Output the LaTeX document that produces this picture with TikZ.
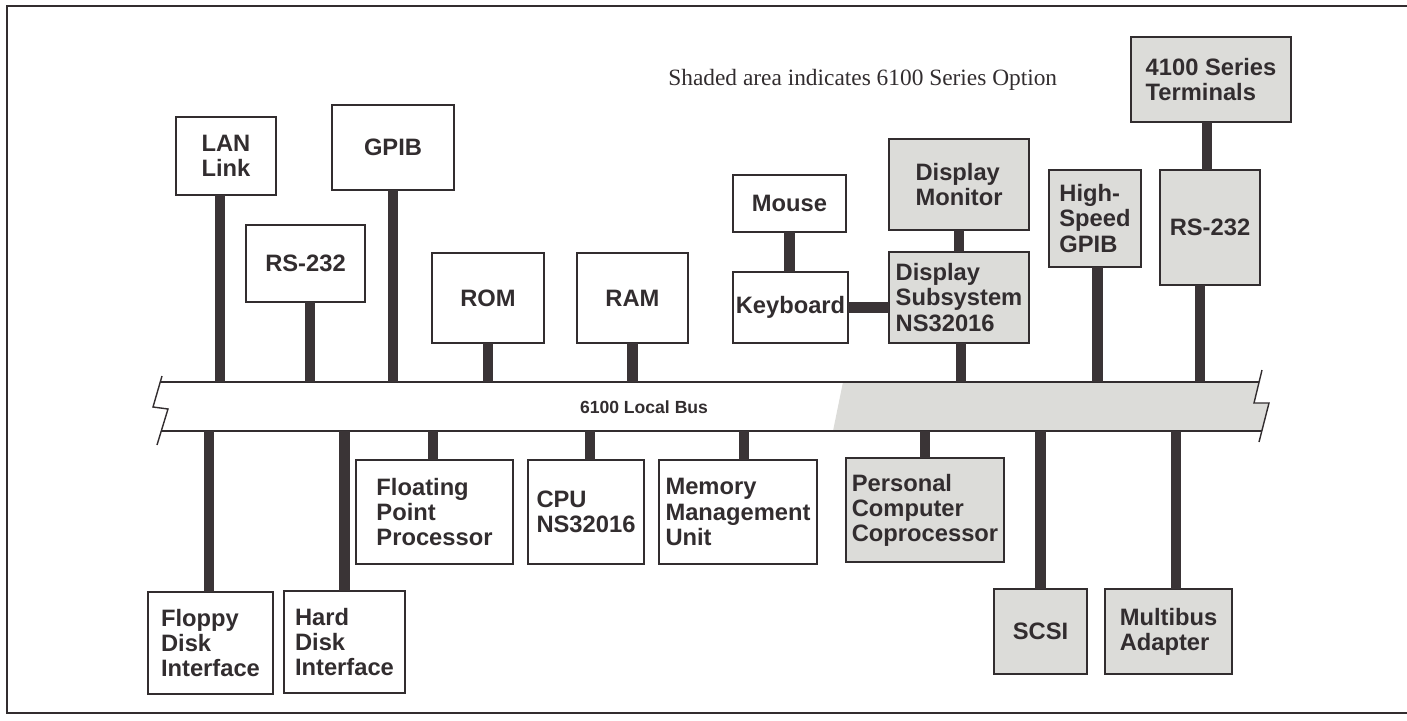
\documentclass[tikz,border=0pt]{standalone}
\usepackage{fontspec}
\setmainfont{Liberation Sans}
\newfontfamily\notefont{Liberation Serif}
\usepackage{xcolor}
\usepackage{tikz}
\usetikzlibrary{calc}
\definecolor{ink}{RGB}{50,45,47}
\definecolor{optbg}{RGB}{220,220,217}
\definecolor{wirec}{RGB}{58,52,54}

\begin{document}
\begin{tikzpicture}[x=0.2mm, y=-0.2mm, font=\fontsize{13.5}{14.3}\selectfont\bfseries,
  unit/.style={draw=ink, line width=1.1pt, text=ink, align=left, inner sep=0pt, outer sep=0pt},
  option/.style={unit, fill=optbg},
  link/.style={draw=wirec, line width=6.2pt},
  busline/.style={draw=ink, line width=1.1pt},
  breakline/.style={draw=ink, line width=0.8pt}]
  \useasboundingbox (0,0) rectangle (1407,721);
  \draw[draw=ink, line width=0.85pt] (1407,6) -- (7,6) -- (7,713) -- (1407,713);
  \node[font=\notefont\fontsize{13.3}{15}\selectfont, text=ink, anchor=base west, inner sep=0pt] (note) at (668,85) {Shaded area indicates 6100 Series Option};
  % local bus
  \coordinate (bustop) at (0,382);
  \coordinate (busbot) at (0,431);
  \fill[optbg] (843,382) -- (1259,382) -- (1254,403) -- (1269,403) -- (1262,431) -- (833,431) -- cycle;
  \draw[busline] (160,382) -- (1259,382);
  \draw[busline] (161,431) -- (1262,431);
  \draw[breakline] (162,376) -- (153,407) -- (168,409) -- (157,445);
  \draw[breakline] (1262,370) -- (1254,403) -- (1269,403) -- (1259,442);
  \node[font=\fontsize{10}{12}\selectfont\bfseries, text=ink] (buslabel) at (644,407) {6100 Local Bus};
  % above the bus
  \node[unit, minimum width=20mm, minimum height=15.6mm] (lan) at (226,156) {LAN\\Link};
  \node[unit, minimum width=24.4mm, minimum height=17mm] (gpib) at (393,147.5) {GPIB};
  \node[unit, minimum width=23.8mm, minimum height=15.4mm] (rsa) at (305.5,263.5) {RS-232};
  \node[unit, minimum width=22.4mm, minimum height=18mm] (rom) at (488,298) {ROM};
  \node[unit, minimum width=22.2mm, minimum height=18mm] (ram) at (632.5,298) {RAM};
  \node[unit, minimum width=22.6mm, minimum height=11.4mm] (mouse) at (789.5,203.5) {Mouse};
  \node[unit, minimum width=23mm, minimum height=14.2mm] (keyb) at (790.5,307.5) {Keyboard};
  \node[option, minimum width=28mm, minimum height=18.2mm] (dmon) at (959,184.5) {Display\\Monitor};
  \node[option, minimum width=28mm, minimum height=18.2mm] (dsub) at (959,297.5) {Display\\Subsystem\\NS32016};
  \node[option, minimum width=18.4mm, minimum height=19.4mm] (hsgpib) at (1095,218.5) {High-\\Speed\\GPIB};
  \node[option, minimum width=20mm, minimum height=23mm] (rsb) at (1210,227.5) {RS-232};
  \node[option, minimum width=32mm, minimum height=17mm] (term) at (1211,79.5) {4100 Series\\Terminals};
  % below the bus
  \node[unit, minimum width=31.4mm, minimum height=20.8mm] (fpp) at (434.5,512) {Floating\\Point\\Processor};
  \node[unit, minimum width=23.2mm, minimum height=20.8mm] (cpu) at (586,512) {CPU\\NS32016};
  \node[unit, minimum width=31.6mm, minimum height=20.8mm] (mmu) at (738,512) {Memory\\Management\\Unit};
  \node[option, minimum width=31.6mm, minimum height=20.8mm] (pcc) at (925,510) {Personal\\Computer\\Coprocessor};
  \node[unit, minimum width=25mm, minimum height=20.4mm] (floppy) at (210.5,643) {Floppy\\Disk\\Interface};
  \node[unit, minimum width=24.2mm, minimum height=20.4mm] (hard) at (344.5,642) {Hard\\Disk\\Interface};
  \node[option, minimum width=18.6mm, minimum height=17mm] (scsi) at (1040.5,631.5) {SCSI};
  \node[option, minimum width=25.4mm, minimum height=17mm] (multibus) at (1168.5,631.5) {Multibus\\Adapter};
  % links to the bus
  \foreach \n/\s in {lan/-1.2, rsa/0.9, gpib/0, rom/0, ram/0, dsub/0.4, hsgpib/0.5, rsb/-2}
    \draw[link] ([xshift=\s mm]\n.south) -- ([xshift=\s mm]\n.south |- bustop);
  \foreach \n/\s in {floppy/-0.3, hard/0, fpp/-0.3, cpu/0.8, mmu/1.2, pcc/0, scsi/0, multibus/1.5}
    \draw[link] ([xshift=\s mm]\n.north) -- ([xshift=\s mm]\n.north |- busbot);
  \draw[link] (mouse.south) -- (mouse.south |- keyb.north);
  \draw[link] (keyb.east) -- (keyb.east -| dsub.west);
  \draw[link] (dmon.south) -- (dsub.north);
  \draw[link] ([xshift=-0.8mm]term.south) -- ([xshift=-0.8mm]term.south |- rsb.north);
\end{tikzpicture}
\end{document}
